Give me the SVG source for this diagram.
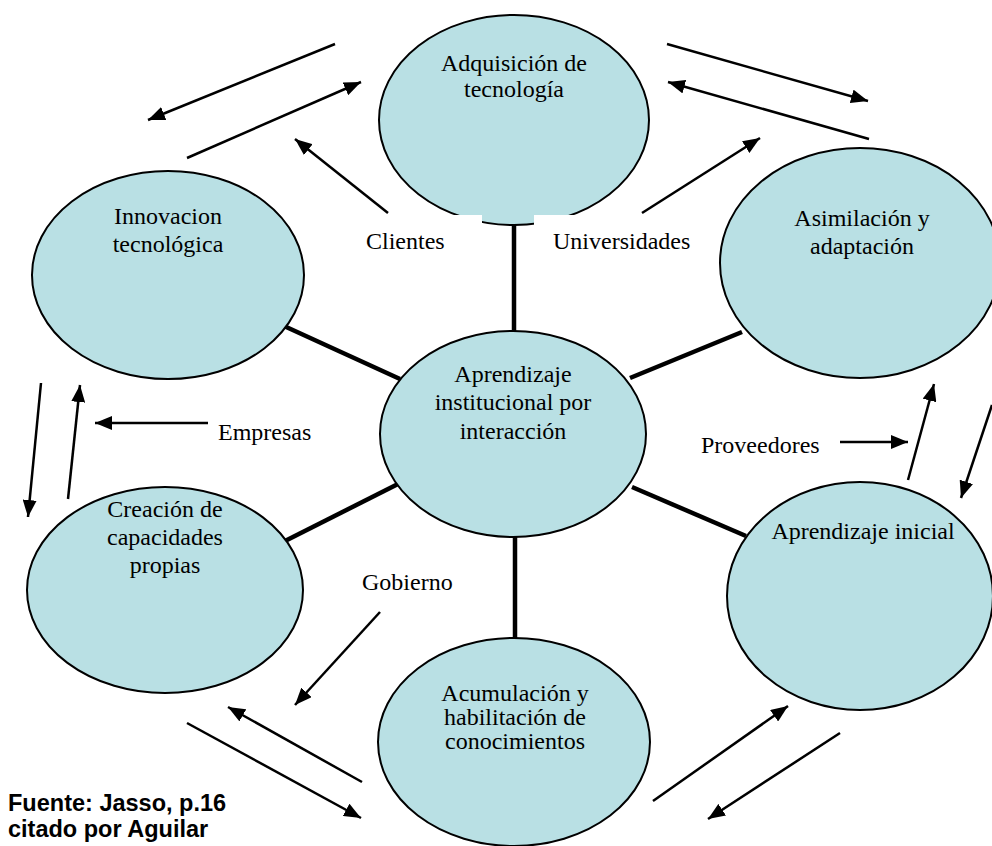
<svg xmlns="http://www.w3.org/2000/svg" width="992" height="846" viewBox="0 0 992 846">
<style>
.node ellipse{fill:#b9e0e4;stroke:#000;stroke-width:2}
.t{font-family:"Liberation Serif","Times New Roman",serif;font-size:24px;fill:#000}
.c{text-anchor:middle}
.spoke{stroke:#000;stroke-width:4.5}
.arr{stroke:#000;stroke-width:2.5;fill:none;marker-end:url(#ah)}
.src{font-family:"Liberation Sans",Arial,sans-serif;font-size:23.5px;font-weight:bold;fill:#000}
</style>
<defs>
<marker id="ah" markerUnits="userSpaceOnUse" markerWidth="18" markerHeight="14" refX="17" refY="7" orient="auto">
<path d="M0,0 L17,7 L0,14 z" fill="#000"/>
</marker>
</defs>
<rect width="992" height="846" fill="#fff"/>
<g id="connectors">
<line class="spoke" x1="284" y1="326" x2="400" y2="379"/>
<line class="spoke" x1="630" y1="378" x2="742" y2="332"/>
<line class="spoke" x1="285" y1="541" x2="398" y2="484"/>
<line class="spoke" x1="632" y1="487" x2="746" y2="536"/>
<line class="spoke" x1="515" y1="535" x2="515" y2="642"/>
<line class="arr" x1="335" y1="44" x2="148" y2="120"/>
<line class="arr" x1="187" y1="158" x2="361" y2="82"/>
<line class="arr" x1="388" y1="213" x2="295" y2="139"/>
<line class="arr" x1="667" y1="44" x2="868" y2="101"/>
<line class="arr" x1="869" y1="139" x2="668" y2="82"/>
<line class="arr" x1="642" y1="213" x2="760" y2="138"/>
<line class="arr" x1="41" y1="383" x2="28" y2="517"/>
<line class="arr" x1="68" y1="499" x2="80" y2="385"/>
<line class="arr" x1="208" y1="423" x2="95" y2="423"/>
<line class="arr" x1="908" y1="480" x2="934" y2="384"/>
<line class="arr" x1="992" y1="405" x2="961" y2="498"/>
<line class="arr" x1="840" y1="442" x2="908" y2="442"/>
<line class="arr" x1="380" y1="612" x2="295" y2="705"/>
<line class="arr" x1="362" y1="782" x2="228" y2="707"/>
<line class="arr" x1="187" y1="723" x2="361" y2="818"/>
<line class="arr" x1="653" y1="801" x2="788" y2="706"/>
<line class="arr" x1="840" y1="733" x2="708" y2="819"/>
</g>
<g id="n-adquisicion" class="node">
<ellipse cx="514" cy="120" rx="135" ry="105"/>
<rect x="350" y="215" width="132" height="36" fill="#fff"/>
<rect x="534" y="215" width="166" height="36" fill="#fff"/>
<line class="spoke" x1="514" y1="225" x2="514" y2="333"/>
<text class="t c" x="514" y="71">Adquisición de</text>
<text class="t c" x="514" y="97">tecnología</text>
</g>
<g id="n-innovacion" class="node">
<ellipse cx="168" cy="275" rx="136" ry="104"/>
<text class="t c" x="168" y="224">Innovacion</text>
<text class="t c" x="168" y="252">tecnológica</text>
</g>
<g id="n-asimilacion" class="node">
<ellipse cx="860" cy="263" rx="140" ry="115"/>
<text class="t c" x="862" y="226">Asimilación y</text>
<text class="t c" x="862" y="254">adaptación</text>
</g>
<g id="n-central" class="node">
<ellipse cx="513" cy="434" rx="133" ry="103"/>
<text class="t c" x="513" y="382">Aprendizaje</text>
<text class="t c" x="513" y="410">institucional por</text>
<text class="t c" x="513" y="439">interacción</text>
</g>
<g id="n-creacion" class="node">
<ellipse cx="165" cy="590" rx="138" ry="103"/>
<text class="t c" x="165" y="517">Creación de</text>
<text class="t c" x="165" y="545">capacidades</text>
<text class="t c" x="165" y="573">propias</text>
</g>
<g id="n-inicial" class="node">
<ellipse cx="860" cy="596" rx="133" ry="114"/>
<text class="t c" x="863" y="539">Aprendizaje inicial</text>
</g>
<g id="n-acumulacion" class="node">
<ellipse cx="514" cy="742" rx="136" ry="104"/>
<text class="t c" x="515" y="701">Acumulación y</text>
<text class="t c" x="515" y="725">habilitación de</text>
<text class="t c" x="515" y="749">conocimientos</text>
</g>
<g id="labels">
<text class="t" x="366" y="249">Clientes</text>
<text class="t" x="553" y="249">Universidades</text>
<text class="t" x="218" y="440">Empresas</text>
<text class="t" x="701" y="453">Proveedores</text>
<text class="t" x="362" y="590">Gobierno</text>
<text class="src" x="8" y="811">Fuente: Jasso, p.16</text>
<text class="src" x="8" y="837">citado por Aguilar</text>
</g>
</svg>
